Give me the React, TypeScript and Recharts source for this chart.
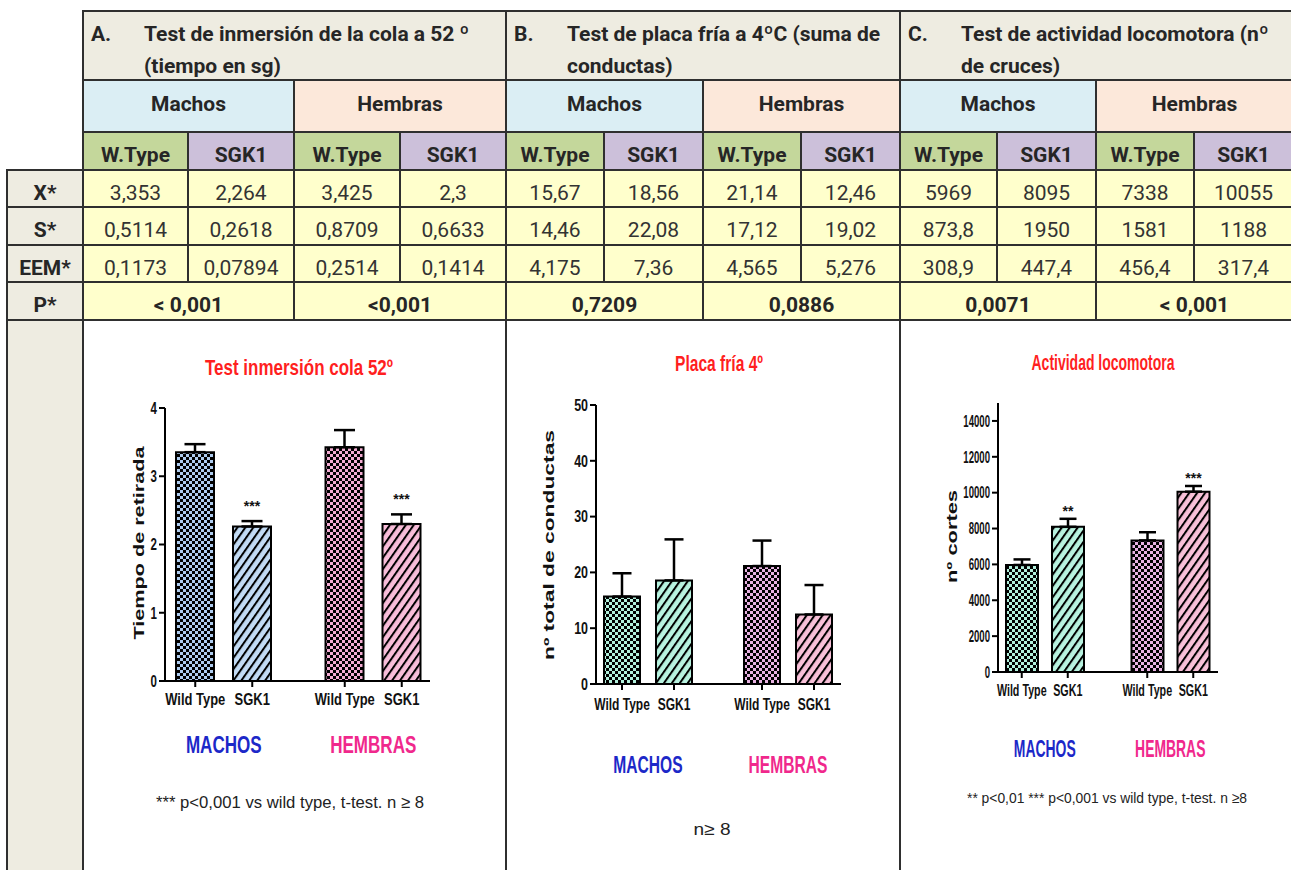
import { BarChart, Bar, XAxis, YAxis, ErrorBar, Cell, LabelList } from 'recharts';

// orden de los valores: WT machos, SGK1 machos, WT hembras, SGK1 hembras
const sexos = ['Machos', 'Hembras'];
const grupos = ['MACHOS', 'HEMBRAS'];
const genotipos = ['W.Type', 'SGK1'];
const etiquetasX = ['Wild Type', 'SGK1'];
const filas = ['X*', 'S*', 'EEM*', 'P*'];
const letras = ['A.', 'B.', 'C.'];
const encabezados = [
  ['Test de inmersión de la cola a 52 º', '(tiempo en sg)'],
  ['Test de placa fría a 4ºC (suma de', 'conductas)'],
  ['Test de actividad locomotora (nº', 'de cruces)'],
];

// A. inmersión de la cola (segundos)
const colaMedia = [3.353, 2.264, 3.425, 2.3];
const colaDesv = [0.5114, 0.2618, 0.8709, 0.6633];
const colaEem = [0.1173, 0.07894, 0.2514, 0.1414];
const colaP = ['< 0,001', '<0,001'];
const colaSig = ['***', '***'];
const colaTicks = [0, 1, 2, 3, 4];

// B. placa fría (suma de conductas)
const placaMedia = [15.67, 18.56, 21.14, 12.46];
const placaDesv = [14.46, 22.08, 17.12, 19.02];
const placaEem = [4.175, 7.36, 4.565, 5.276];
const placaP = ['0,7209', '0,0886'];
const placaSig = ['', ''];
const placaTicks = [0, 10, 20, 30, 40, 50];

// C. actividad locomotora (nº de cruces)
const locoMedia = [5969, 8095, 7338, 10055];
const locoDesv = [873.8, 1950, 1581, 1188];
const locoEem = [308.9, 447.4, 456.4, 317.4];
const locoP = ['0,0071', '< 0,001'];
const locoSig = ['**', '***'];
const locoTicks = [0, 2000, 4000, 6000, 8000, 10000, 12000, 14000];

const titulos = ['Test inmersión cola 52º', 'Placa fría 4º', 'Actividad locomotora'];
const ejesY = ['Tiempo de retirada', 'nº total de conductas', 'nº cortes'];
const notas = [
  '*** p<0,001 vs wild type, t-test. n ≥ 8',
  'n≥ 8',
  '** p<0,01 *** p<0,001 vs wild type, t-test. n ≥8',
];

const pruebas = [
  { media: colaMedia, desv: colaDesv, eem: colaEem, p: colaP },
  { media: placaMedia, desv: placaDesv, eem: placaEem, p: placaP },
  { media: locoMedia, desv: locoDesv, eem: locoEem, p: locoP },
];

// rejilla de la tabla
const colX = [83, 188, 294, 400, 506, 604, 703, 801, 900, 997, 1096, 1194, 1293];
const rowY = [11, 80, 132, 170, 207, 245, 282, 320, 876];
const labelX = 7;

const coma = (v: number) => String(v).replace('.', ',');
const fuenteGraf = "'Liberation Sans', Arial, sans-serif";
const colorGrupo = ['#1c28c8', '#f0288c'];

const graficos = [
  {
    id: 'cola', media: colaMedia, eem: colaEem, sig: colaSig, dominio: [0, 4], ticks: colaTicks,
    colores: ['#aecbee', '#c2dbf5', '#f3acd2', '#f8bdd9'],
    left: 90, top: 385, width: 360, height: 386,
    margin: { top: 23, right: 20, bottom: 0, left: 25 }, yWidth: 50, xHeight: 90,
    pad: { left: -16, right: -18 }, barSize: 38, barGap: 19, cap: 10.5,
    numSize: 16, numSx: 0.72, tickDy: 24, tickSx: 0.81, grupoDy: 72, grupoSx: 0.71, sigGap: 18,
  },
  {
    id: 'placa', media: placaMedia, eem: placaEem, sig: placaSig, dominio: [0, 50], ticks: placaTicks,
    colores: ['#b2f0dc', '#b8f3e0', '#e8b2e2', '#f8c0d8'],
    left: 510, top: 380, width: 370, height: 404,
    margin: { top: 25, right: 39, bottom: 0, left: 26 }, yWidth: 60, xHeight: 100,
    pad: { left: -18, right: -17 }, barSize: 36, barGap: 16, cap: 9.5,
    numSize: 16, numSx: 0.78, tickDy: 26, tickSx: 0.75, grupoDy: 89, grupoSx: 0.65, sigGap: 12,
  },
  {
    id: 'loco', media: locoMedia, eem: locoEem, sig: locoSig, dominio: [0, 15000], ticks: locoTicks,
    colores: ['#b2f0dc', '#b8f3e0', '#e8b2e2', '#f8c0d8'],
    left: 910, top: 380, width: 330, height: 392,
    margin: { top: 23, right: 22, bottom: 0, left: 28 }, yWidth: 60, xHeight: 100,
    pad: { left: -16, right: -15 }, barSize: 32, barGap: 14, cap: 8.5,
    numSize: 16, numSx: 0.6, tickDy: 24, tickSx: 0.67, grupoDy: 85, grupoSx: 0.58, sigGap: 11,
  },
];

// textos del gráfico (títulos, ejes Y, notas): centro x, línea base y, ancho
const decoracion = [
  { titulo: [299, 374.5, 188], ejeY: [144, 543, 193], nota: [290, 808, 268], notaSize: 17 },
  { titulo: [719, 370.5, 88], ejeY: [554, 545, 230], nota: [712, 835, 37], notaSize: 17 },
  { titulo: [1103, 369.5, 143], ejeY: [957, 536.5, 93], nota: [1107, 803, 280], notaSize: 15 },
];

function Estrecho({ x, y, size, sx, anchor = 'middle', fill = '#111', weight = 'bold', children }: any) {
  return (
    <text
      transform={`translate(${x},${y}) scale(${sx},1)`}
      textAnchor={anchor}
      fontSize={size}
      fontWeight={weight}
      fill={fill}
      fontFamily={fuenteGraf}
    >
      {children}
    </text>
  );
}

function Patrones({ id, colores }: { id: string; colores: string[] }) {
  return (
    <defs>
      {colores.map((c, i) =>
        i % 2 === 0 ? (
          <pattern key={i} id={`${id}-p${i}`} width={6} height={6} patternUnits="userSpaceOnUse">
            <rect width={6} height={6} fill={c} />
            <rect width={3} height={3} fill="#000" />
            <rect x={3} y={3} width={3} height={3} fill="#000" />
          </pattern>
        ) : (
          <pattern key={i} id={`${id}-p${i}`} width={6.5} height={6.5} patternUnits="userSpaceOnUse" patternTransform="rotate(35)">
            <rect width={6.5} height={6.5} fill={c} />
            <line x1={1} y1={0} x2={1} y2={6.5} stroke="#000" strokeWidth={2} />
          </pattern>
        )
      )}
    </defs>
  );
}

function Grafico({ g }: { g: any }) {
  const data = grupos.map((grupo, i) => ({
    grupo,
    wt: g.media[2 * i],
    sgk: g.media[2 * i + 1],
    wtErr: [0, g.eem[2 * i]],
    sgkErr: [0, g.eem[2 * i + 1]],
  }));
  const half = (g.barSize + g.barGap) / 2;

  const tickX = ({ x, y, payload, index }: any) => (
    <g>
      {[-half, half].map((d, k) => (
        <g key={k}>
          <line x1={x + d} x2={x + d} y1={y} y2={y + 6} stroke="#000" strokeWidth={2} />
          <Estrecho x={x + d} y={y + g.tickDy} size={16} sx={g.tickSx}>
            {etiquetasX[k]}
          </Estrecho>
        </g>
      ))}
      <Estrecho x={x} y={y + g.grupoDy} size={24} sx={g.grupoSx} fill={colorGrupo[index]}>
        {payload.value}
      </Estrecho>
    </g>
  );

  const tickY = ({ x, y, payload }: any) => (
    <Estrecho x={x} y={y + g.numSize * 0.36} size={g.numSize} sx={g.numSx} anchor="end">
      {payload.value}
    </Estrecho>
  );

  // asteriscos sobre la barra de error de SGK1
  const estrellas = (p: any) => {
    const i = p.index;
    const txt = g.sig[i];
    if (!txt) return null;
    const k = p.height / g.media[2 * i + 1];
    const yCap = p.y - g.eem[2 * i + 1] * k;
    return (
      <Estrecho key={i} x={p.x + p.width / 2} y={yCap - g.sigGap + 8} size={14} sx={1}>
        {txt}
      </Estrecho>
    );
  };

  return (
    <div style={{ position: 'absolute', left: g.left, top: g.top }}>
      <BarChart
        width={g.width}
        height={g.height}
        data={data}
        margin={g.margin}
        barSize={g.barSize}
        barGap={g.barGap}
      >
        <Patrones id={g.id} colores={g.colores} />
        <XAxis
          dataKey="grupo"
          height={g.xHeight}
          padding={g.pad}
          axisLine={{ stroke: '#000', strokeWidth: 2 }}
          tickLine={false}
          tickSize={0}
          tickMargin={0}
          interval={0}
          tick={tickX}
        />
        <YAxis
          width={g.yWidth}
          domain={g.dominio}
          ticks={g.ticks}
          interval={0}
          allowDataOverflow
          axisLine={{ stroke: '#000', strokeWidth: 2 }}
          tickLine={{ stroke: '#000', strokeWidth: 2 }}
          tick={tickY}
        />
        <Bar dataKey="wt" stroke="#000" strokeWidth={2} isAnimationActive={false}>
          {data.map((_, i) => (
            <Cell key={i} fill={`url(#${g.id}-p${2 * i})`} />
          ))}
          <ErrorBar dataKey="wtErr" direction="y" width={g.cap} stroke="#000" strokeWidth={2.5} />
        </Bar>
        <Bar dataKey="sgk" stroke="#000" strokeWidth={2} isAnimationActive={false}>
          {data.map((_, i) => (
            <Cell key={i} fill={`url(#${g.id}-p${2 * i + 1})`} />
          ))}
          <ErrorBar dataKey="sgkErr" direction="y" width={g.cap} stroke="#000" strokeWidth={2.5} />
          <LabelList dataKey="sgk" content={estrellas} />
        </Bar>
      </BarChart>
    </div>
  );
}

function Celda({ x0, x1, y0, y1, bg, style, children }: any) {
  return (
    <div
      style={{
        position: 'absolute',
        left: x0 - 1,
        top: y0 - 1,
        width: x1 - x0 + 2,
        height: y1 - y0 + 2,
        boxSizing: 'border-box',
        border: '2px solid #2f2f2f',
        background: bg,
        display: 'flex',
        alignItems: 'center',
        justifyContent: 'center',
        color: '#262626',
        ...style,
      }}
    >
      {children}
    </div>
  );
}

function Tabla() {
  const celdas: any[] = [];
  pruebas.forEach((pr, t) => {
    celdas.push(
      <Celda key={`h${t}`} x0={colX[4 * t]} x1={colX[4 * t + 4]} y0={rowY[0]} y1={rowY[1]} bg="#eeece1"
        style={{ alignItems: 'flex-start', justifyContent: 'flex-start', padding: '6px 0 0 7px', lineHeight: '32px', fontWeight: 700 }}>
        <span style={{ width: 53, flex: 'none' }}>{letras[t]}</span>
        <span>
          {encabezados[t][0]}
          <br />
          {encabezados[t][1]}
        </span>
      </Celda>
    );
    sexos.forEach((s, k) => {
      const c = 4 * t + 2 * k;
      celdas.push(
        <Celda key={`s${t}${k}`} x0={colX[c]} x1={colX[c + 2]} y0={rowY[1]} y1={rowY[2]}
          bg={k === 0 ? '#dbeef4' : '#fce8da'} style={{ fontWeight: 700, paddingBottom: 4 }}>
          {s}
        </Celda>
      );
      celdas.push(
        <Celda key={`p${t}${k}`} x0={colX[c]} x1={colX[c + 2]} y0={rowY[6]} y1={rowY[7]}
          bg="#ffffcc" style={{ fontWeight: 700, paddingTop: 8 }}>
          {pr.p[k]}
        </Celda>
      );
    });
    [pr.media, pr.desv, pr.eem].forEach((serie, r) => {
      serie.forEach((v, j) => {
        const c = 4 * t + j;
        celdas.push(
          <Celda key={`d${t}${r}${j}`} x0={colX[c]} x1={colX[c + 1]} y0={rowY[3 + r]} y1={rowY[4 + r]}
            bg="#ffffcc" style={{ paddingTop: 8, color: '#333' }}>
            {coma(v)}
          </Celda>
        );
      });
    });
    for (let j = 0; j < 4; j++) {
      const c = 4 * t + j;
      celdas.push(
        <Celda key={`g${t}${j}`} x0={colX[c]} x1={colX[c + 1]} y0={rowY[2]} y1={rowY[3]}
          bg={j % 2 === 0 ? '#c4d79b' : '#ccc0da'} style={{ fontWeight: 700, paddingTop: 7 }}>
          {genotipos[j % 2]}
        </Celda>
      );
    }
    celdas.push(
      <Celda key={`c${t}`} x0={colX[4 * t]} x1={colX[4 * t + 4]} y0={rowY[7]} y1={rowY[8]} bg="#fff" />
    );
  });
  filas.forEach((f, r) => {
    celdas.push(
      <Celda key={`l${r}`} x0={labelX} x1={colX[0]} y0={rowY[3 + r]} y1={rowY[4 + r]} bg="#eeece1"
        style={{ fontWeight: 700, paddingTop: 8 }}>
        {f}
      </Celda>
    );
  });
  celdas.push(<Celda key="lfin" x0={labelX} x1={colX[0]} y0={rowY[7]} y1={rowY[8]} bg="#eeece1" />);
  return <>{celdas}</>;
}

export default function App() {
  return (
    <div
      style={{
        position: 'absolute',
        left: 0,
        top: 0,
        width: 1291,
        height: 870,
        overflow: 'hidden',
        background: '#fff',
        fontFamily: 'Roboto, sans-serif',
        fontSize: 21,
      }}
    >
      <Tabla />
      {graficos.map((g) => (
        <Grafico key={g.id} g={g} />
      ))}
      <svg width={1291} height={870} style={{ position: 'absolute', left: 0, top: 0, pointerEvents: 'none' }}>
        {decoracion.map((d, t) => (
          <g key={t} fontFamily={fuenteGraf}>
            <text x={d.titulo[0]} y={d.titulo[1]} textAnchor="middle" fontSize={22} fontWeight="bold" fill="#ff1f1f"
              textLength={d.titulo[2]} lengthAdjust="spacingAndGlyphs">
              {titulos[t]}
            </text>
            <text transform={`translate(${d.ejeY[0]},${d.ejeY[1]}) rotate(-90)`} textAnchor="middle" fontSize={15}
              fontWeight="bold" fill="#111" textLength={d.ejeY[2]} lengthAdjust="spacingAndGlyphs">
              {ejesY[t]}
            </text>
            <text x={d.nota[0]} y={d.nota[1]} textAnchor="middle" fontSize={d.notaSize} fill="#222"
              textLength={d.nota[2]} lengthAdjust="spacingAndGlyphs">
              {notas[t]}
            </text>
          </g>
        ))}
      </svg>
    </div>
  );
}
